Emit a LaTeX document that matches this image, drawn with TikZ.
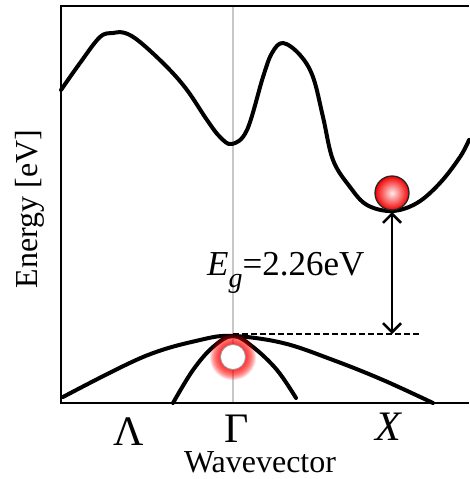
\documentclass[tikz,border=0pt]{standalone}
\usepackage{fontspec}
\setmainfont{Liberation Serif}
\usetikzlibrary{arrows.meta,shadings}
\tikzset{
  band/.style={line width=4pt, line join=round, line cap=round},
  frameline/.style={line width=2pt},
  lbl/.style={inner sep=0pt, font=\fontsize{32}{36}\selectfont},
  sym/.style={inner sep=0pt, text depth=0pt, font=\fontsize{42}{46}\selectfont},
}
\begin{document}
\begin{tikzpicture}[x=1pt,y=-1pt]
\useasboundingbox (0,0) rectangle (469,479);
% coordinates
\coordinate (tl) at (61,6);
\coordinate (bl) at (61,403);
\coordinate (tr) at (469,6);
\coordinate (br) at (469,403);
\coordinate (gtop) at (233,6);
\coordinate (gbot) at (233,403);
\coordinate (vbm) at (233,334);
\coordinate (dashend) at (420,334);
\coordinate (cbm) at (392,212);
\coordinate (arrbot) at (392,334);
\coordinate (ball) at (392,193);
\coordinate (hole) at (233,357);
% gamma line
\draw[line width=2pt, black!22] (gtop) -- (gbot);
% frame
\draw[frameline] (tr) -- (tl) -- (bl) -- (br);
% conduction band
\draw[band] plot[smooth, tension=0.6] coordinates {
 (61,90) (80,63) (100,37) (113,33) (125,33) (140,42) (167,67) (187,90)
 (207,120) (220,137) (232,144) (247,130) (263,77) (272,53) (283,43)
 (300,55) (313,77) (323,117) (333,160) (350,187) (367,205) (392,211)
 (417,203) (440,183) (460,157) (469,140)};
% valence bands
\draw[band] plot[smooth, tension=0.6] coordinates {
 (63,397) (143,357) (200,340) (233,336) (283,343) (333,360) (383,380) (433,403)};
\draw[band] plot[smooth, tension=0.6] coordinates {
 (173,403) (193,370) (213,347) (233,336) (253,347) (277,370) (296,398)};
% dashed line
\draw[line width=1.5pt, dash pattern=on 6pt off 3pt] (vbm) -- (dashend);
% gap arrow
\draw[line width=2pt, {Straight Barb[length=9pt,width=18pt,line width=2.5pt]}-{Straight Barb[length=9pt,width=18pt,line width=2.5pt]}] (cbm) -- (arrbot);
% electron ball
\shade[inner color=red!8!white, outer color=red!95!black] (ball) circle (17pt);
\draw[line width=1.3pt, black!85] (ball) circle (17pt);
% hole glow
\foreach \r in {23,22,...,13} \fill[red, opacity=0.13] (hole) circle (\r pt);
\fill[white] (hole) circle (12.5pt);
\draw[line width=0.8pt, black!40] (hole) circle (12.5pt);
% labels
\node[inner sep=0pt, font=\fontsize{35}{38}\selectfont, anchor=base west] (eg) at (207,275) {\textit{E}\raisebox{-0.36em}{\fontsize{28}{28}\selectfont\textit{g}}=2.26eV};
\node[sym, anchor=base] (lam) at (129,445) {Λ};
\node[sym, anchor=base] (gam) at (237,442) {Γ};
\node[sym, anchor=base] (xlab) at (389,440) {\textit{X}};
\node[lbl, anchor=base] (wv) at (260,472) {Wavevector};
\node[lbl, anchor=base, rotate=90] (en) at (37,209) {Energy [eV]};
\end{tikzpicture}
\end{document}
